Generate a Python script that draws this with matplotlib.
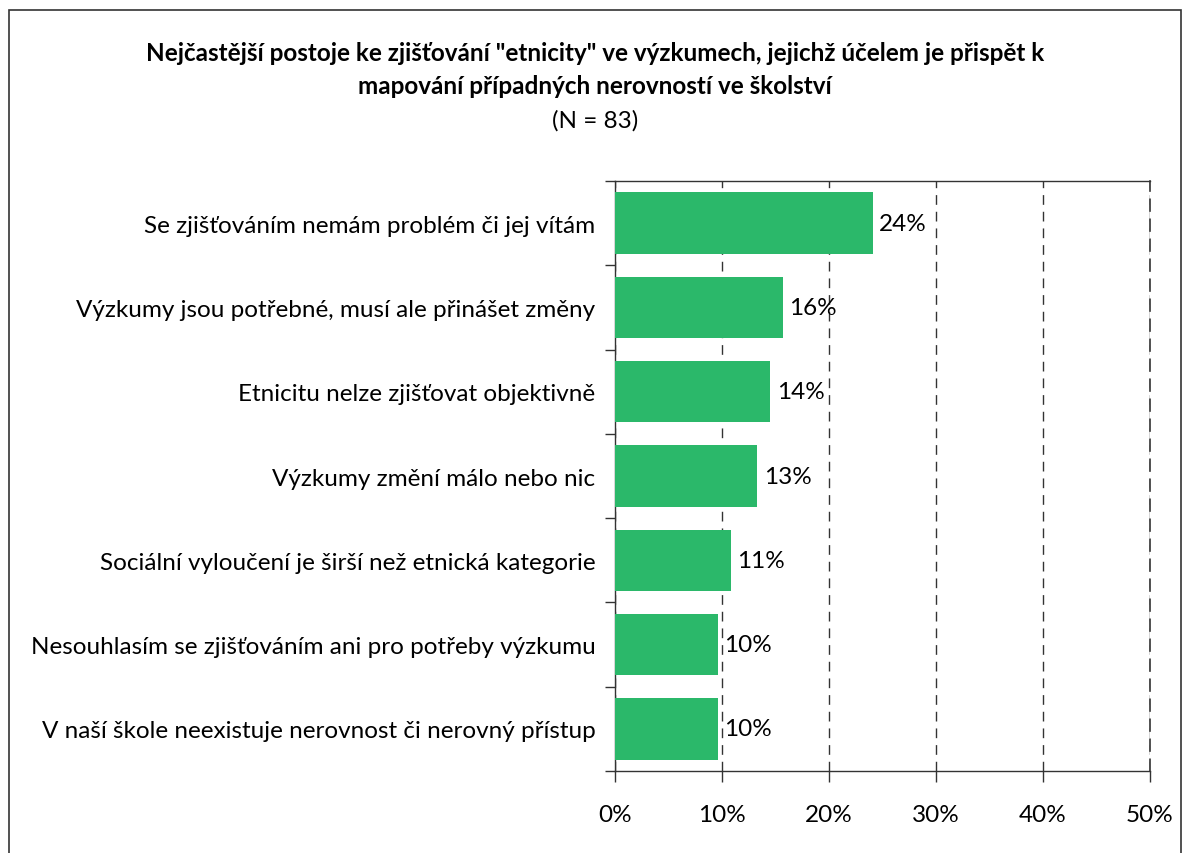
import matplotlib
matplotlib.use("Agg")
import matplotlib.pyplot as plt
from matplotlib.patches import Rectangle
from matplotlib.ticker import FixedLocator, PercentFormatter

categories = [
	"Se zjišťováním nemám problém či jej vítám",
	"Výzkumy jsou potřebné, musí ale přinášet změny",
	"Etnicitu nelze zjišťovat objektivně",
	"Výzkumy změní málo nebo nic",
	"Sociální vyloučení je širší než etnická kategorie",
	"Nesouhlasím se zjišťováním ani pro potřeby výzkumu",
	"V naší škole neexistuje nerovnost či nerovný přístup",
]
values = [24.1, 15.7, 14.5, 13.3, 10.8, 9.6, 9.6]
labels = ["24%", "16%", "14%", "13%", "11%", "10%", "10%"]
xticks = [0, 10, 20, 30, 40, 50]

title = ("Nejčastější postoje ke zjišťování \"etnicity\" ve výzkumech, jejichž účelem je přispět k\n"
	"mapování případných nerovností ve školství")
subtitle = "(N = 83)"

plt.rcParams['font.family'] = ['Lato', 'DejaVu Sans']
fs = 17.5

fig = plt.figure(figsize=(11.9, 8.54), dpi=100)
ax = fig.add_axes([615 / 1190, 1 - 772 / 854, 535 / 1190, 590 / 854])

pos = list(range(len(categories)))
ax.barh(pos, values, height=0.73, color="#2bb86a", zorder=3)
for p, v, l in zip(pos, values, labels):
	ax.text(v + 0.6, p, l, va="center", ha="left", fontsize=fs, zorder=4)

ax.set_ylim(len(categories) - 0.5, -0.5)
ax.set_xlim(0, 50)
ax.set_yticks(pos)
ax.set_yticklabels(categories, fontsize=fs)
ax.yaxis.set_minor_locator(FixedLocator([i - 0.5 for i in range(len(categories) + 1)]))
ax.tick_params(axis="y", which="major", length=0, pad=14)
ax.tick_params(axis="y", which="minor", length=7, width=1, color="#333333")

ax.set_xticks(xticks)
ax.xaxis.set_major_formatter(PercentFormatter(decimals=0))
ax.tick_params(axis="x", length=8, width=1, color="#333333", labelsize=fs, pad=16)
ax.grid(axis="x", linestyle=(0, (7, 5)), color="#333333", linewidth=1, zorder=1)

for s in ["left", "bottom", "top"]:
	ax.spines[s].set_color("#333333")
	ax.spines[s].set_linewidth(1)
ax.spines["right"].set_color("#333333")
ax.spines["right"].set_linestyle((0, (7, 5)))
ax.spines["right"].set_linewidth(1.2)

fig.text(595 / 1190, 1 - 70 / 854, title, ha="center", va="center", fontsize=fs,
	fontweight="bold", linespacing=1.55)
fig.text(595 / 1190, 1 - 121 / 854, subtitle, ha="center", va="center", fontsize=fs)

fig.patches.append(Rectangle((9 / 1190, -0.05), 1172 / 1190, 1.05 - 11 / 854,
	transform=fig.transFigure, fill=False, edgecolor="#333333", linewidth=1.2))

fig.savefig("out.png", dpi=100)
